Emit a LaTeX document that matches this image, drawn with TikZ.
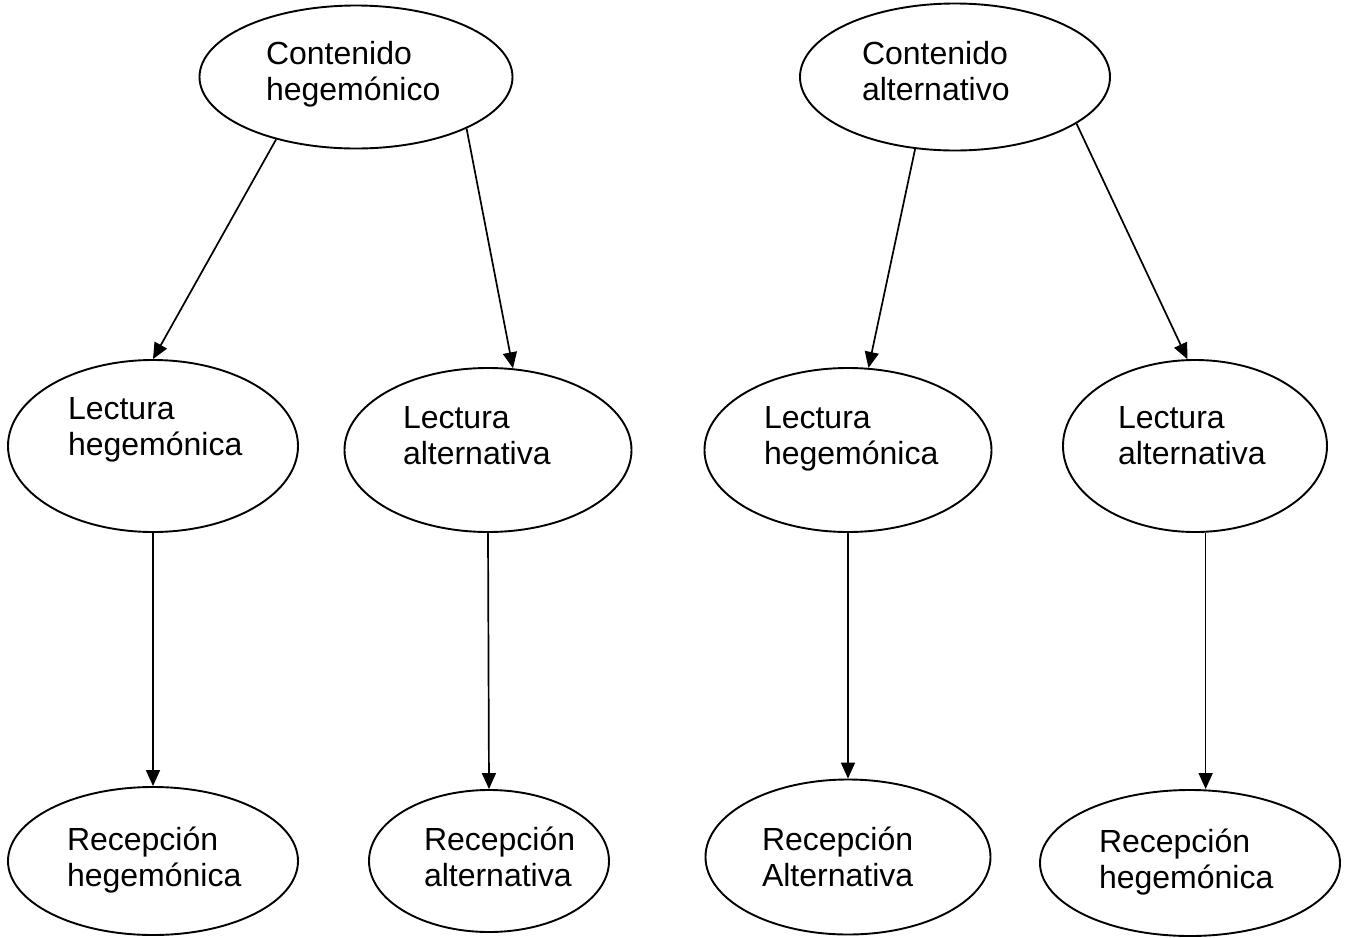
\documentclass[tikz,border=0pt]{standalone}
\usepackage{fontspec}
\setmainfont{Liberation Sans}
\usetikzlibrary{shapes.geometric,arrows.meta}
% two lines of text, left edge and first baseline given from the centre
\newcommand\ovtext[4]{\makebox[0pt][l]{\hspace*{#1}\raisebox{#2}[0pt][0pt]{\vtop{\baselineskip=18pt\hbox{#3}\hbox{#4}}}}}
\begin{document}
\begin{tikzpicture}[x=0.5pt,y=-0.5pt,
  oval/.style={ellipse,draw,line width=0.95pt,inner sep=0pt,
    font=\fontsize{16}{18}\selectfont},
  arr/.style={-{Triangle[length=8pt,width=7pt]},line width=0.85pt}]
\useasboundingbox (0,0) rectangle (1346,938);

	% top row
	\node[oval,minimum width=156.5pt,minimum height=71.5pt] (ch) at (356,77) {\ovtext{-45pt}{6.5pt}{Contenido}{hegemónico}};
	\node[oval,minimum width=155pt,minimum height=73.5pt] (ca) at (955,77) {\ovtext{-46.5pt}{6.5pt}{Contenido}{alternativo}};

	% middle row
	\node[oval,minimum width=145pt,minimum height=86pt] (lh1) at (153,446) {\ovtext{-42.5pt}{13.5pt}{Lectura}{hegemónica}};
	\node[oval,minimum width=143.5pt,minimum height=82pt] (la1) at (488,450) {\ovtext{-42.5pt}{11pt}{Lectura}{alternativa}};
	\node[oval,minimum width=143.5pt,minimum height=82pt] (lh2) at (848,450) {\ovtext{-42pt}{11pt}{Lectura}{hegemónica}};
	\node[oval,minimum width=132pt,minimum height=86pt] (la2) at (1195,446) {\ovtext{-38.5pt}{9pt}{Lectura}{alternativa}};

	% bottom row
	\node[oval,minimum width=145pt,minimum height=74pt] (rh1) at (153,861) {\ovtext{-43pt}{5.5pt}{Recepción}{hegemónica}};
	\node[oval,minimum width=120pt,minimum height=71pt] (ra1) at (489,861) {\ovtext{-32.5pt}{5.5pt}{Recepción}{alternativa}};
	\node[oval,minimum width=142.5pt,minimum height=77.5pt] (ra2) at (848,857) {\ovtext{-43pt}{3.5pt}{Recepción}{Alternativa}};
	\node[oval,minimum width=150pt,minimum height=73pt] (rh2) at (1190,863) {\ovtext{-45.5pt}{5.5pt}{Recepción}{hegemónica}};

	\draw[arr] (ch.218) -- (lh1.north);
	\draw[arr] (ch.-25) -- (la1.73);
	\draw[arr] (ca.241) -- (lh2.76);
	\draw[arr] (ca.-21) -- (la2.95);

	\draw[arr] (lh1.south) -- (rh1.north);
	\draw[arr] (la1.south) -- (ra1.north);
	\draw[arr] (lh2.south) -- (ra2.north);
	\draw[arr] (la2.-83) -- (la2.-83 |- rh2.north);

\end{tikzpicture}
\end{document}
